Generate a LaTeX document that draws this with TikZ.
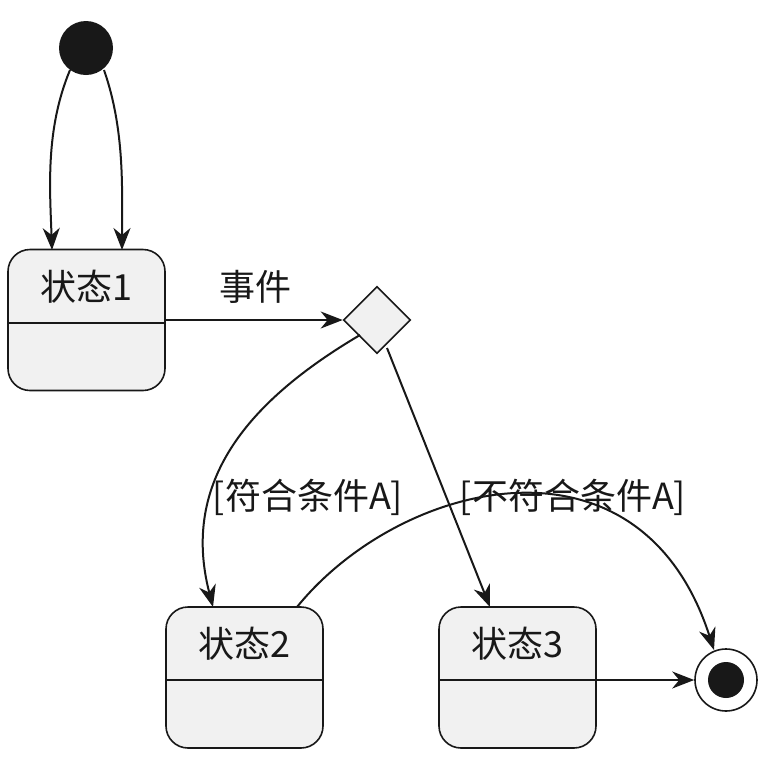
\documentclass[tikz,border=0pt]{standalone}
\usepackage{fontspec}
\setmainfont{Noto Sans CJK SC}
\usetikzlibrary{arrows.meta,shapes.geometric}
\definecolor{stfill}{HTML}{F1F1F1}
\definecolor{stline}{HTML}{181818}
\begin{document}
\begin{tikzpicture}[x=1pt,y=-1pt, line width=1.6pt]
\tikzset{ >={Stealth[length=22pt,width=17pt,inset=7pt]},
  state/.style={draw=stline, line width=1.6pt, fill=stfill, rounded corners=22pt, minimum width=157pt, minimum height=141pt},
  lbl/.style={font=\fontsize{36}{40}\selectfont, text=stline},
  conn/.style={->, draw=stline, line width=2pt},
}
\useasboundingbox (0,0) rectangle (772,772);

% start and end
\node [circle, fill=stline, minimum size=54pt, inner sep=0pt] (I) at (86,48) {};
\node [circle, draw=stline, line width=1.6pt, fill=white, minimum size=62pt, inner sep=0pt] (E) at (726,680) {};
\node [circle, fill=stline, minimum size=36pt, inner sep=0pt] at (E) {};

% states
\node [state] (S1) at (86.5,320) {};
\draw [stline] (8,323) -- (165,323);
\node [lbl] at (86.5,287) {状态1};
\node [state] (S2) at (244.5,677.5) {};
\draw [stline] (166,680) -- (323,680);
\node [lbl] at (244.5,644) {状态2};
\node [state] (S3) at (517.5,677.5) {};
\draw [stline] (439,680) -- (596,680);
\node [lbl] at (517.5,644) {状态3};

% choice
\node [diamond, draw=stline, line width=1.6pt, fill=stfill, minimum size=67pt, inner sep=0pt] (C) at (377,320) {};

% transitions
\draw [conn] (70,70) .. controls (45,130) and (50,190) .. (52,250);
\draw [conn] (104,70) .. controls (125,130) and (122,190) .. (122,250);
\draw [conn] (S1.east |- 0,320) -- (C.west);
\node [lbl] at (255,287) {事件};
\draw [conn] (360,335) .. controls (250,400) and (180,480) .. (213,607);
\node [lbl] at (308,497) {[符合条件A]};
\draw [conn] (387,348) -- (490,607);
\draw [conn] (297,607) .. controls (400,480) and (640,420) .. (714,650);
\node [lbl] at (573,497) {[不符合条件A]};
\draw [conn] (596,680) -- (E.west);
\end{tikzpicture}
\end{document}
